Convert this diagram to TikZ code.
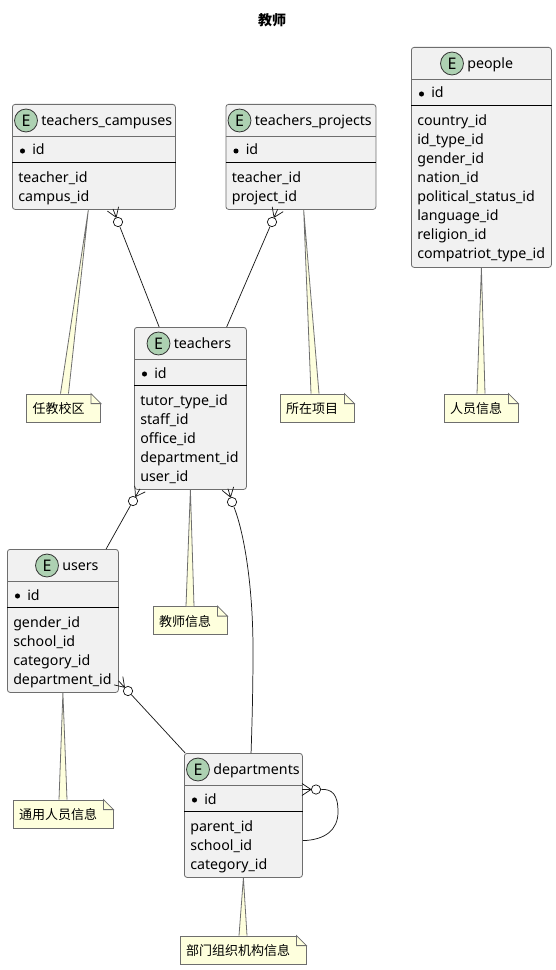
\documentclass[tikz,border=0pt]{standalone}
\usepackage{fontspec}
\setmainfont{Noto Sans}
\newfontfamily\cjk{Noto Sans CJK SC}
\usetikzlibrary{calc}
\definecolor{entityfill}{HTML}{F1F1F1}
\definecolor{notefill}{HTML}{FEFFDD}
\definecolor{ecirclefill}{HTML}{ADD1B2}
\definecolor{softline}{HTML}{6E6E6E}
\tikzset{
    x=0.75pt, y=-0.75pt,
    entity/.style 2 args={draw=softline, fill=entityfill, line width=0.6pt, rounded corners=2pt, anchor=north west, inner sep=0pt,
        minimum width=#1*0.75pt, minimum height=#2*0.75pt},
    ecircle/.style={circle, draw=black!80, fill=ecirclefill, line width=0.6pt, minimum size=17.2pt, inner sep=0pt, font=\fontsize{12pt}{12pt}\selectfont},
    label/.style={anchor=base west, inner sep=0pt, font=\fontsize{10.65pt}{12pt}\selectfont},
    bullet/.style={circle, fill=black, minimum size=3.8pt, inner sep=0pt},
    note/.style={draw=softline, fill=notefill, line width=0.6pt, minimum height=21pt, inner xsep=0pt, inner ysep=0pt, text height=14.9pt, text depth=6.1pt,
        font=\fontsize{9.75pt}{12pt}\selectfont\cjk, execute at begin node=\hspace{4.6pt}, execute at end node=\hspace{12pt}},
    ring/.style={circle, draw=black!90, fill=white, line width=0.55pt, minimum size=7pt, inner sep=0pt},
    conn/.style={draw=black!90, line width=0.55pt},
    crowfoot/.pic={\draw[conn] (5,0) -- (14,6) (5,0) -- (14,-6) (5,0) -- (14,0);},
}
\begin{document}
\begin{tikzpicture}
    \useasboundingbox (0,0) rectangle (556,970);
    \node[inner sep=0pt, font=\fontsize{10.5pt}{12pt}\selectfont\cjk\bfseries] (title) at (272,20) {教师};

    \node[entity={163}{105}] (TC) at (12,104) {};
    \node[entity={150}{105}] (TP) at (225.5,104) {};
    \node[entity={140}{220}] (PE) at (411,47) {};
    \node[entity={112}{162}] (TE) at (134,327) {};
    \node[entity={111}{143}] (US) at (7,549) {};
    \node[entity={118}{124}] (DE) at (184,753) {};

    \foreach \n/\e/\t in {TC/14/teachers\_campuses, TP/14/teachers\_projects, PE/41/people, TE/24.5/teachers, US/40/users, DE/14/departments} {
        \node[ecircle] (\n-E) at ($(\n.north west)+(\e,16.5)$) {E};
        \node[label] (\n-name) at ($(\n.north west)+(\e+15,21.5)$) {\t};
        \draw[softline, line width=0.6pt] ($(\n.north west)+(0,32)$) -- ($(\n.north east)+(0,32)$);
        \draw[black, line width=0.6pt] ($(\n.north west)+(0,58.7)$) -- ($(\n.north east)+(0,58.7)$);
        \node[bullet] (\n-dot) at ($(\n.north west)+(10.5,47)$) {};
        \node[label] (\n-id) at ($(\n.north west)+(20,51)$) {id};
    }

    \foreach \f [count=\i] in {teacher\_id, campus\_id}
        \node[label] (TC-\i) at ($(TC.north west)+(6,59+19.1*\i)$) {\f};
    \foreach \f [count=\i] in {teacher\_id, project\_id}
        \node[label] (TP-\i) at ($(TP.north west)+(6,59+19.1*\i)$) {\f};
    \foreach \f [count=\i] in {country\_id, id\_type\_id, gender\_id, nation\_id, political\_status\_id, language\_id, religion\_id, compatriot\_type\_id}
        \node[label] (PE-\i) at ($(PE.north west)+(6,59+19.1*\i)$) {\f};
    \foreach \f [count=\i] in {tutor\_type\_id, staff\_id, office\_id, department\_id, user\_id}
        \node[label] (TE-\i) at ($(TE.north west)+(6,59+19.1*\i)$) {\f};
    \foreach \f [count=\i] in {gender\_id, school\_id, category\_id, department\_id}
        \node[label] (US-\i) at ($(US.north west)+(6,59+19.1*\i)$) {\f};
    \foreach \f [count=\i] in {parent\_id, school\_id, category\_id}
        \node[label] (DE-\i) at ($(DE.north west)+(6,59+19.1*\i)$) {\f};

    \node[note] (NC) at (63.5,408) {任教校区};
    \node[note] (NP) at (317,408) {所在项目};
    \node[note] (NE) at (481,408) {人员信息};
    \node[note] (NT) at (190,620.5) {教师信息};
    \node[note] (NU) at (63,814) {通用人员信息};
    \node[note] (ND) at (243,950) {部门组织机构信息};

    % wedges from the entities to their notes
    \foreach \tip/\m/\o in {TC.264/NC/1, TP.273/NP/-2, PE.south/NE/0, TE.south/NT/0, US.south/NU/0, DE.south/ND/0} {
        \fill[notefill] (\tip) -- ($(\m.north)+(\o-4,0)$) -- ($(\m.north)+(\o+4,0)$) -- cycle;
        \draw[softline, line width=0.6pt] ($(\m.north)+(\o-4,0)$) -- (\tip) -- ($(\m.north)+(\o+4,0)$);
    }
    \foreach \m in {NC,NP,NE,NT,NU,ND} {
        \fill[white] ($(\m.north east)+(-10,-0.5)$) -- ($(\m.north east)+(0.5,-0.5)$) -- ($(\m.north east)+(0.5,10)$) -- cycle;
        \draw[softline, line width=0.6pt, fill=notefill] ($(\m.north east)+(-10,0)$) -- ($(\m.north east)+(-10,10)$) -- ($(\m.north east)+(0,10)$) -- cycle;
    }

    \node[ring] (RC) at (118,222) {};
    \node[ring] (RP) at (272,222) {};
    \node[ring] (RU) at (133,501) {};
    \node[ring] (RD) at (232,502) {};
    \node[ring] (RN) at (128,691) {};
    \node[ring] (RS) at (316,789.5) {};

    \pic[rotate=111] at (RC) {crowfoot};
    \pic[rotate=66] at (RP) {crowfoot};
    \pic[rotate=60] at (RU) {crowfoot};
    \pic[rotate=107] at (RD) {crowfoot};
    \pic[rotate=133] at (RN) {crowfoot};
    \pic[rotate=180] at (RS) {crowfoot};

    \draw[conn] (RC) -- (TE.111);
    \draw[conn] (RP) -- (TE.66);
    \draw[conn] (RU) -- (US.59);
    \draw[conn] (RD) .. controls (245,535) and (253,590) .. (253,650) .. controls (253,690) and (252,725) .. (DE.83.5);
    \draw[conn] (RN) -- (DE.133.3);
    \draw[conn] (RS) .. controls (332,789) and (338,794) .. (338,812) .. controls (338,830) and (325,840) .. (DE.-23.4);
\end{tikzpicture}
\end{document}
